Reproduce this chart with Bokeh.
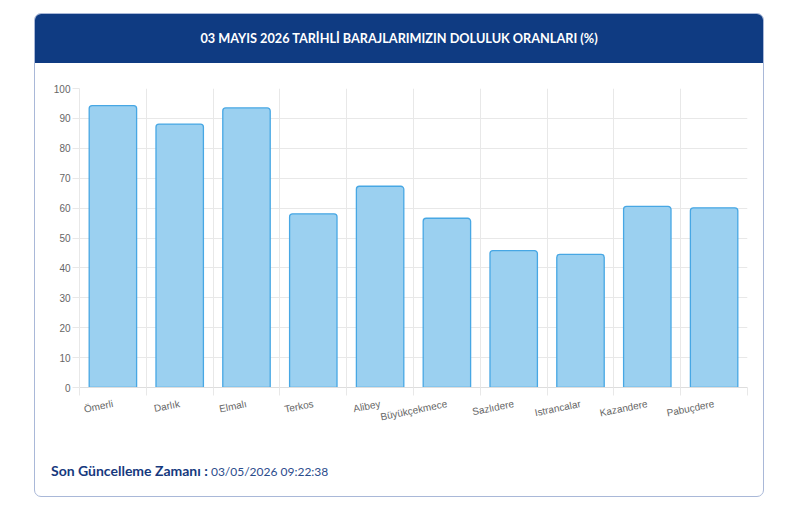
from bokeh.plotting import figure
from bokeh.models import (Range1d, FixedTicker, LinearAxis, Grid, Div)
from bokeh.layouts import column
from bokeh.embed import file_html
from bokeh.resources import INLINE

# ---- data ----
dams = ["Ömerli", "Darlık", "Elmalı", "Terkos", "Alibey", "Büyükçekmece",
        "Sazlıdere", "Istrancalar", "Kazandere", "Pabuçdere"]
fill_pct = [94.3, 88.1, 93.5, 58.1, 67.3, 56.6, 45.8, 44.5, 60.6, 60.1]
y_ticks = [0, 10, 20, 30, 40, 50, 60, 70, 80, 90, 100]
title_text = "03 MAYIS 2026 TARİHLİ BARAJLARIMIZIN DOLULUK ORANLARI (%)"
update_label = "Son Güncelleme Zamanı :"
update_value = "03/05/2026 09:22:38"

n = len(dams)
centers = [i + 0.5 for i in range(n)]
bounds = list(range(n + 1))

CW = 728          # inner card width
HEADER_H = 49
FIG_H = 382
FOOT_H = 51

header = Div(text=title_text, width=CW, height=HEADER_H, margin=0,
             styles={"background-color": "#0f3b82", "color": "white",
                     "font-family": "Lato", "font-weight": "bold",
                     "font-size": "12.7px", "text-align": "center",
                     "line-height": f"{HEADER_H}px",
                     "border-radius": "6px 6px 0 0"})

p = figure(width=CW, height=FIG_H, title=None, output_backend="svg",
           toolbar_location=None, x_range=Range1d(0, n), y_range=Range1d(0, 100),
           min_border_left=44, min_border_right=16, min_border_top=25,
           min_border_bottom=58, x_axis_type=None, y_axis_type=None, margin=0)
p.outline_line_color = None
p.background_fill_color = "white"
p.border_fill_color = "white"

grid_col = "#e8e8e8"

yax = LinearAxis(ticker=FixedTicker(ticks=y_ticks))
yax.axis_line_color = grid_col
yax.major_tick_line_color = grid_col
yax.major_tick_out = 7
yax.major_tick_in = 0
yax.minor_tick_line_color = None
yax.major_label_standoff = 2
yax.major_label_text_font = "Liberation Sans"
yax.major_label_text_font_size = "10px"
yax.major_label_text_color = "#666666"
p.add_layout(yax, "left")

xax = LinearAxis(ticker=FixedTicker(ticks=centers, minor_ticks=bounds))
xax.major_label_overrides = {c: d for c, d in zip(centers, dams)}
xax.axis_line_color = "#dddddd"
xax.major_tick_line_color = None
xax.major_tick_out = 0
xax.major_tick_in = 0
xax.minor_tick_line_color = grid_col
xax.minor_tick_out = 8
xax.minor_tick_in = 0
xax.major_label_orientation = 0.2
xax.major_label_standoff = 8
xax.major_label_text_font = "Liberation Sans"
xax.major_label_text_font_size = "10px"
xax.major_label_text_color = "#666666"
p.add_layout(xax, "below")

p.add_layout(Grid(dimension=0, ticker=FixedTicker(ticks=bounds), grid_line_color=grid_col))
p.add_layout(Grid(dimension=1, ticker=FixedTicker(ticks=y_ticks), grid_line_color=grid_col))

p.vbar(x=centers, top=fill_pct, width=0.71, bottom=0,
       fill_color="#9BD0F0", line_color="#47A7E4", line_width=1.3,
       border_radius=(3, 3, 0, 0))

footer = Div(text=(f'<div style="padding-left:16px; line-height:{FOOT_H}px; '
                   f'font-family:Lato; white-space:nowrap;">'
                   f'<b style="color:#16397e; font-size:14px;">{update_label}</b> '
                   f'<span style="color:#2b4c8c; font-size:12px;">{update_value}</span></div>'),
             width=CW, height=FOOT_H, margin=0)

card = column(header, p, footer, margin=(13, 0, 0, 34),
              styles={"border": "1px solid #a9b8d8", "border-radius": "7px",
                      "background-color": "white"})

open("out.html", "w").write(file_html(card, INLINE))
